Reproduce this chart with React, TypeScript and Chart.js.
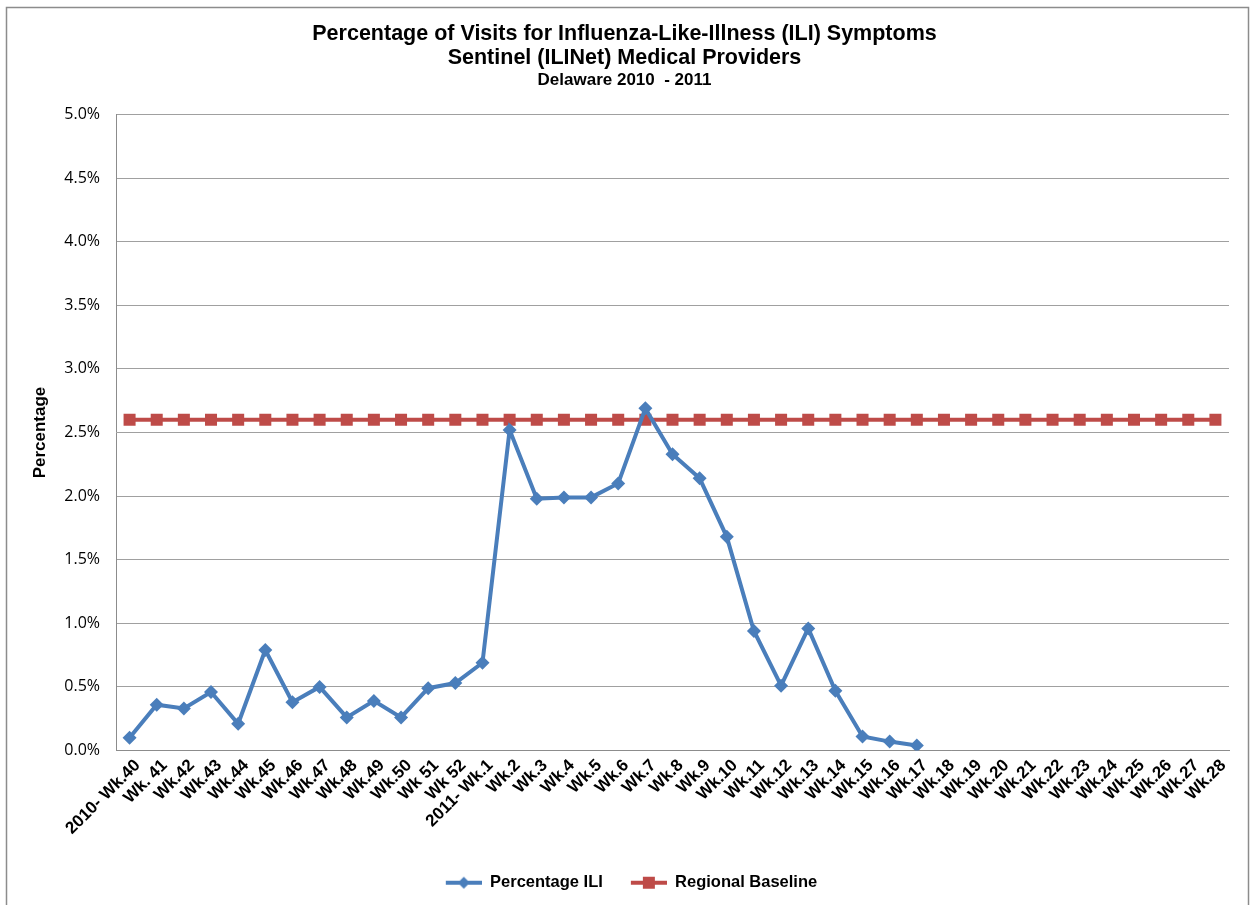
import React, { useEffect, useRef } from "react";
import { Chart, registerables } from "chart.js";

Chart.register(...registerables);

const categories: string[] = [
  "2010- Wk.40", "Wk. 41", "Wk.42", "Wk.43", "Wk.44", "Wk.45", "Wk.46", "Wk.47", "Wk.48", "Wk.49",
  "Wk.50", "Wk 51", "Wk 52", "2011- Wk.1", "Wk.2", "Wk.3", "Wk.4", "Wk.5", "Wk.6", "Wk.7",
  "Wk.8", "Wk.9", "Wk.10", "Wk.11", "Wk.12", "Wk.13", "Wk.14", "Wk.15", "Wk.16", "Wk.17",
  "Wk.18", "Wk.19", "Wk.20", "Wk.21", "Wk.22", "Wk.23", "Wk.24", "Wk.25", "Wk.26", "Wk.27", "Wk.28",
];

const percentageILI: (number | null)[] = [
  0.10, 0.36, 0.33, 0.46, 0.21, 0.79, 0.38, 0.50, 0.26, 0.39,
  0.26, 0.49, 0.53, 0.69, 2.52, 1.98, 1.99, 1.99, 2.10, 2.69,
  2.33, 2.14, 1.68, 0.94, 0.51, 0.96, 0.47, 0.11, 0.07, 0.04,
  null, null, null, null, null, null, null, null, null, null, null,
];

const regionalBaseline: number[] = categories.map(() => 2.6);

const titleLines: string[] = [
  "Percentage of Visits for Influenza-Like-Illness (ILI) Symptoms",
  "Sentinel (ILINet) Medical Providers",
];
const subtitleText = "Delaware 2010  - 2011";

const BLUE = "#4A7EBB";
const RED = "#BE4B48";

function legendIcon(color: string, style: "diamond" | "square"): HTMLCanvasElement {
  const c = document.createElement("canvas");
  c.width = 50;
  c.height = 16;
  const ctx = c.getContext("2d")!;
  ctx.strokeStyle = color;
  ctx.lineWidth = 4;
  ctx.beginPath();
  ctx.moveTo(14, 8);
  ctx.lineTo(50, 8);
  ctx.stroke();
  ctx.fillStyle = color;
  if (style === "diamond") {
    ctx.beginPath();
    ctx.moveTo(32, 2);
    ctx.lineTo(38, 8);
    ctx.lineTo(32, 14);
    ctx.lineTo(26, 8);
    ctx.closePath();
    ctx.fill();
  } else {
    ctx.fillRect(26, 2, 12, 12);
  }
  return c;
}

const borderPlugin = {
  id: "outerBorder",
  beforeDraw(chart: any) {
    const ctx = chart.ctx;
    ctx.save();
    ctx.fillStyle = "#ffffff";
    ctx.fillRect(0, 0, chart.width, chart.height);
    ctx.strokeStyle = "#8c8c8c";
    ctx.lineWidth = 1.5;
    ctx.strokeRect(6.5, 7.5, 1242, 910);
    ctx.restore();
  },
};

export default function App() {
  const canvasRef = useRef<HTMLCanvasElement | null>(null);

  useEffect(() => {
    document.body.style.margin = "0";
    const canvas = canvasRef.current;
    if (!canvas) return;
    const blueIcon = legendIcon(BLUE, "diamond");
    const redIcon = legendIcon(RED, "square");

    const chart = new Chart(canvas, {
      type: "line",
      data: {
        labels: categories,
        datasets: [
          {
            label: "Percentage ILI",
            data: percentageILI,
            borderColor: BLUE,
            backgroundColor: BLUE,
            borderWidth: 4,
            pointStyle: "rectRot",
            pointRadius: 7,
            pointBorderWidth: 0,
            pointBackgroundColor: BLUE,
            tension: 0,
            spanGaps: false,
          },
          {
            label: "Regional Baseline",
            data: regionalBaseline,
            borderColor: RED,
            backgroundColor: RED,
            borderWidth: 4,
            pointStyle: "rect",
            pointRadius: 8.5,
            pointBorderWidth: 0,
            pointBackgroundColor: RED,
            tension: 0,
          },
        ],
      },
      options: {
        animation: false,
        responsive: false,
        maintainAspectRatio: false,
        layout: { padding: { top: 0, left: 20, right: 22, bottom: 4 } },
        plugins: {
          tooltip: { enabled: false },
          title: {
            display: true,
            text: titleLines,
            color: "#000",
            font: { family: "'Liberation Sans', Arial, sans-serif", size: 21.5, weight: "bold", lineHeight: 1.12 },
            padding: { top: 22, bottom: 0 },
          },
          subtitle: {
            display: true,
            text: subtitleText,
            color: "#000",
            font: { family: "'Liberation Sans', Arial, sans-serif", size: 17, weight: "bold", lineHeight: 1.2 },
            padding: { top: 0, bottom: 24 },
          },
          legend: {
            display: true,
            position: "bottom",
            labels: {
              usePointStyle: true,
              pointStyleWidth: 50,
              color: "#000",
              padding: 14,
              font: { family: "'Liberation Sans', Arial, sans-serif", size: 16.5, weight: "bold" },
              generateLabels: (ch: any) =>
                ch.data.datasets.map((ds: any, i: number) => ({
                  text: ds.label,
                  pointStyle: i === 0 ? blueIcon : redIcon,
                  fillStyle: ds.borderColor,
                  strokeStyle: ds.borderColor,
                  lineWidth: 0,
                  hidden: false,
                  datasetIndex: i,
                  fontColor: "#000",
                })),
            },
          },
        },
        scales: {
          x: {
            type: "category",
            offset: true,
            grid: { display: false, drawTicks: true, tickLength: 5, color: "#888" },
            border: { display: true, color: "#8c8c8c", width: 1 },
            ticks: {
              autoSkip: false,
              maxRotation: 45,
              minRotation: 45,
              labelOffset: 8,
              color: "#000",
              padding: 0,
              font: { family: "'Liberation Sans', Arial, sans-serif", size: 17, weight: "bold" },
            },
            afterFit: (scale: any) => {
              scale.height = 110;
            },
          },
          y: {
            min: 0,
            max: 5,
            grid: { color: "#a0a0a0", lineWidth: 1, drawTicks: false },
            border: { display: true, color: "#8c8c8c", width: 1 },
            ticks: {
              stepSize: 0.5,
              padding: 16,
              color: "#000",
              font: { family: "'Open Sans', 'Noto Sans', sans-serif", size: 16 },
              callback: (v: any) => Number(v).toFixed(1) + "%",
            },
            title: {
              display: true,
              text: "Percentage",
              color: "#000",
              font: { family: "'Liberation Sans', Arial, sans-serif", size: 17, weight: "bold" },
              padding: { top: 10, bottom: 0 },
            },
            afterFit: (scale: any) => {
              scale.width = 96;
            },
          },
        },
      },
      plugins: [borderPlugin],
    } as any);

    return () => chart.destroy();
  }, []);

  return (
    <div style={{ position: "absolute", left: 0, top: 0, width: 1251, height: 905 }}>
      <canvas ref={canvasRef} width={1251} height={905} style={{ display: "block" }} />
    </div>
  );
}
